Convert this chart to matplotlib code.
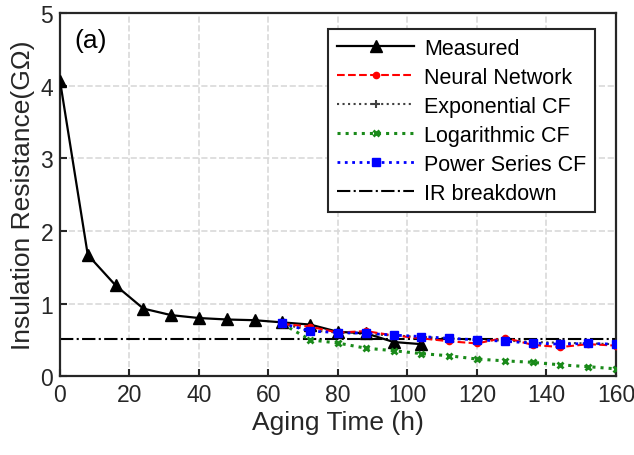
import matplotlib.pyplot as plt

plt.rcParams['font.family'] = ['Liberation Sans', 'DejaVu Sans']

# datos
t_med = [0, 8, 16, 24, 32, 40, 48, 56, 64, 72, 80, 88, 96, 104]
ir_med = [4.07, 1.67, 1.25, 0.93, 0.84, 0.80, 0.78, 0.77, 0.74, 0.71, 0.61, 0.59, 0.47, 0.44]

t_pred = [64, 72, 80, 88, 96, 104, 112, 120, 128, 136, 144, 152, 160]
ir_nn = [0.72, 0.68, 0.60, 0.62, 0.56, 0.52, 0.48, 0.45, 0.53, 0.43, 0.40, 0.44, 0.42]
ir_exp = [0.72, 0.63, 0.60, 0.58, 0.56, 0.54, 0.52, 0.50, 0.49, 0.47, 0.46, 0.45, 0.44]
ir_log = [0.72, 0.50, 0.455, 0.385, 0.35, 0.31, 0.28, 0.235, 0.21, 0.19, 0.155, 0.13, 0.10]
ir_pow = [0.725, 0.62, 0.60, 0.59, 0.565, 0.545, 0.52, 0.50, 0.48, 0.455, 0.44, 0.45, 0.44]

ir_limite = 0.51

fig = plt.figure(figsize=(6.34, 4.56), dpi=100)
ax = fig.add_axes([0.0946, 0.173, 0.877, 0.796])

ax.plot(t_med, ir_med, 'k-^', lw=1.6, markersize=9, label='Measured', zorder=3)
ax.plot(t_pred, ir_nn, 'r--o', lw=1.5, markersize=4.5, label='Neural Network', zorder=4)
ax.plot(t_pred, ir_exp, ':+', color='#404040', lw=1.5, markersize=6, mew=1.5,
        label='Exponential CF', zorder=2)
ax.plot(t_pred, ir_log, ':x', color='#1a8a1a', lw=2.2, markersize=4.5, mew=2,
        label='Logarithmic CF', zorder=4)
ax.plot(t_pred, ir_pow, 'b:s', lw=2.0, markersize=6, label='Power Series CF', zorder=5)
ax.axhline(ir_limite, color='k', ls='-.', lw=1.5, label='IR breakdown', zorder=2)

ax.set_xlim(0, 160)
ax.set_ylim(0, 5)
ax.set_xticks(range(0, 161, 20))
ax.set_yticks(range(0, 6))
ax.grid(True, color='#d9d9d9', ls='--', lw=1.2)
ax.set_axisbelow(True)
ax.tick_params(direction='in', length=5, width=1.5, labelsize=16.5,
               colors='#262626', pad=5)
for s in ax.spines.values():
    s.set_linewidth(1.6)
    s.set_color('#262626')

ax.set_xlabel('Aging Time (h)', fontsize=19, color='#262626', labelpad=3)
ax.set_ylabel('Insulation Resistance(G\u03a9)', fontsize=19, color='#262626', labelpad=4)
ax.text(0.025, 0.925, '(a)', transform=ax.transAxes, fontsize=19, va='center')

leg = ax.legend(loc='upper right', bbox_to_anchor=(0.962, 0.956), fontsize=15.5,
                frameon=True, fancybox=False, edgecolor='#262626',
                handlelength=3.6, borderpad=0.4, labelspacing=0.37,
                handletextpad=0.45, borderaxespad=0)
leg.get_frame().set_linewidth(1.5)
leg.get_frame().set_alpha(1)

fig.savefig('out.png', dpi=100)
